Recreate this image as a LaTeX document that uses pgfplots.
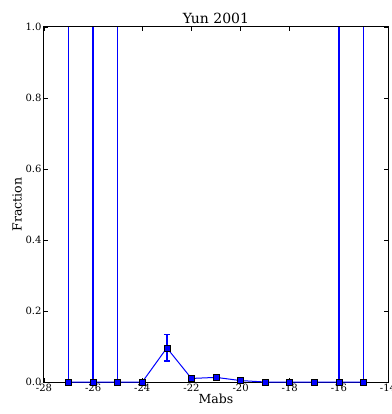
\documentclass[border=0pt]{standalone}
\usepackage{fontspec}
\setmainfont{DejaVu Serif}
\usepackage{pgfplots}
\pgfplotsset{compat=1.18}
\definecolor{mplblue}{RGB}{0,0,255}
% fraction per magnitude bin
\pgfplotstableread{
x y
-27 0
-26 0
-25 0
-24 0
-23 0.096
-22 0.010
-21 0.013
-20 0.004
-19 0
-18 0
-17 0
-16 0
-15 0
}\yundata
\begin{document}
\begin{tikzpicture}
\begin{axis}[
  scale only axis,
  width=344pt, height=355pt,
  xmin=-28, xmax=-14, ymin=0, ymax=1,
  xtick={-28,-26,...,-14},
  ytick={0,0.2,0.4,0.6,0.8,1.0},
  /pgf/number format/assume math mode=true,
  xticklabel style={font=\fontsize{10}{11}\selectfont, yshift=1pt},
  yticklabel style={font=\fontsize{10}{11}\selectfont, xshift=1pt, /pgf/number format/fixed, /pgf/number format/fixed zerofill, /pgf/number format/precision=1},
  tick align=inside,
  tick pos=both,
  major tick length=4pt,
  tick style={black, line width=0.6pt},
  axis line style={black, line width=1pt},
  title={Yun 2001},
  title style={font=\fontsize{14}{16}\selectfont, yshift=-6pt},
  xlabel={Mabs}, ylabel={Fraction},
  label style={font=\fontsize{12.5}{14}\selectfont},
  xlabel style={yshift=5pt},
  ylabel style={yshift=-3pt},
  errline/.style={draw=mplblue, line width=1.4pt, no marks, forget plot},
]
% error bars (upper errors of the empty bins run past 1.0)
\addplot[errline] coordinates {(-27,0) (-27,1)};
\addplot[errline] coordinates {(-26,0) (-26,1)};
\addplot[errline] coordinates {(-25,0) (-25,1)};
\addplot[errline] coordinates {(-16,0) (-16,1)};
\addplot[errline] coordinates {(-15,0) (-15,1)};
\addplot[errline] coordinates {(-23,0.059) (-23,0.133)};
\addplot[errline] coordinates {(-23.12,0.133) (-22.88,0.133)};
\addplot[errline] coordinates {(-23.12,0.059) (-22.88,0.059)};
\addplot[draw=mplblue, line width=1pt, mark=square*, mark size=3pt,
  mark options={fill=mplblue, draw=black, line width=0.5pt}]
  table[x=x, y=y] {\yundata};
\end{axis}
\pgfresetboundingbox
\useasboundingbox ([xshift=-44pt,yshift=-32pt]current axis.south west) rectangle ([xshift=3pt,yshift=27pt]current axis.north east);
\end{tikzpicture}
\end{document}
